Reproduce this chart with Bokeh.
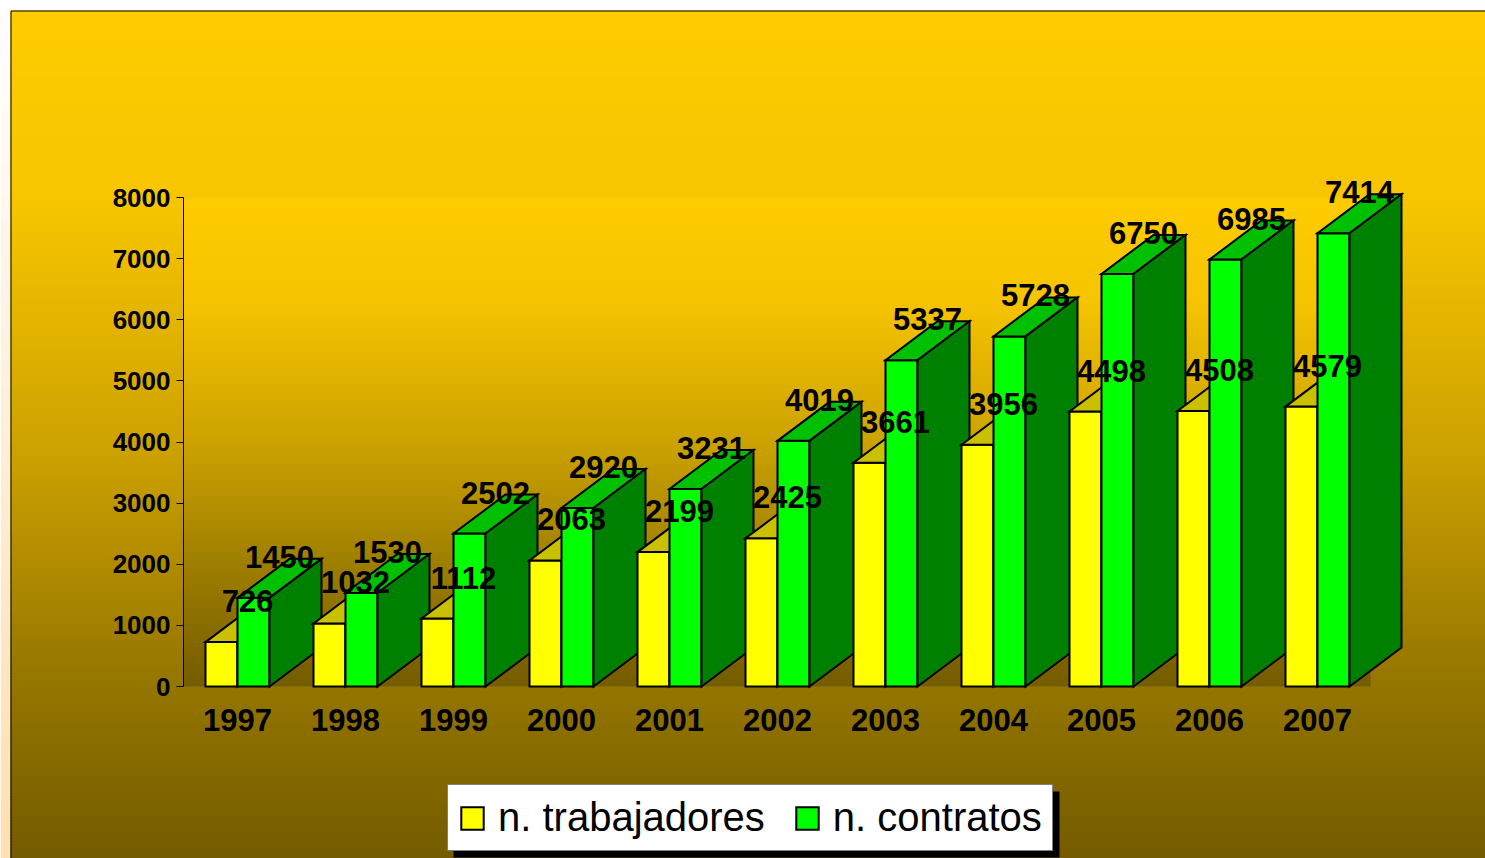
import numpy as np
from bokeh.plotting import figure
from bokeh.models import Range1d, FixedTicker, Legend, LegendItem
from bokeh.core.properties import value
from bokeh.embed import file_html
from bokeh.resources import INLINE

# ---------------- data ----------------
years = ["1997", "1998", "1999", "2000", "2001", "2002", "2003", "2004", "2005", "2006", "2007"]
trabajadores = [726, 1032, 1112, 2063, 2199, 2425, 3661, 3956, 4498, 4508, 4579]
contratos = [1450, 1530, 2502, 2920, 3231, 4019, 5337, 5728, 6750, 6985, 7414]
y_ticks = [0, 1000, 2000, 3000, 4000, 5000, 6000, 7000, 8000]
series_names = ["n. trabajadores", "n. contratos"]

W, H = 1485, 858
# pixel geometry of the chart (scale definition)
X0PX, XSTEP = 237.0, 108.0      # pixel of category 0, pixels per category
Y0PX, YSCALE = 686.0, 489.0 / 8000.0  # pixel of value 0, pixels per unit


def X(px):
    return (px - X0PX) / XSTEP


def Y(py):
    return (Y0PX - py) / YSCALE


p = figure(width=W, height=H, output_backend="svg", toolbar_location=None,
           x_range=Range1d(X(0), X(W)), y_range=Range1d(Y(H), Y(0)),
           min_border=0, min_border_left=0, min_border_right=0,
           min_border_top=0, min_border_bottom=0)
p.title.visible = False
p.outline_line_color = None
p.grid.visible = False
p.background_fill_color = "white"
p.border_fill_color = "white"


def gradient(stops_px, stops_col, y_top, y_bot, step=3):
    ys = np.arange(y_top, y_bot, step, dtype=float)
    cols = []
    for yy in ys:
        yc = yy + step / 2
        r = np.interp(yc, stops_px, [c[0] for c in stops_col])
        g = np.interp(yc, stops_px, [c[1] for c in stops_col])
        b = np.interp(yc, stops_px, [c[2] for c in stops_col])
        cols.append("#%02x%02x%02x" % (int(r), int(g), int(b)))
    tops = [Y(v) for v in ys]
    bots = [Y(min(v + step + 0.6, y_bot)) for v in ys]
    return tops, bots, cols


# left strip (white -> peach)
t, b, c = gradient([0, 858], [(255, 255, 255), (255, 224, 176)], 10, H, 6)
p.quad(left=X(0), right=X(10), top=t, bottom=b, fill_color=c, line_color=None)

# outer gold background
t, b, c = gradient([10, 200, 442, 658, 858],
                   [(255, 204, 0), (247, 198, 0), (207, 163, 0), (154, 122, 0), (116, 92, 0)],
                   10, H, 3)
p.quad(left=X(10), right=X(W), top=t, bottom=b, fill_color=c, line_color=None)
p.segment(x0=[X(10.5), X(10.5)], y0=[Y(10.5), Y(10.5)], x1=[X(10.5), X(W)], y1=[Y(H), Y(10.5)],
          line_color="black", line_width=1)

# back wall
t, b, c = gradient([197, 300, 440, 560, 686],
                   [(255, 204, 0), (246, 196, 0), (205, 163, 0), (160, 128, 0), (116, 92, 0)],
                   197, 686, 3)
p.quad(left=X(183), right=X(1370), top=t, bottom=b, fill_color=c, line_color=None)

# ---------------- 3D bars ----------------
BW = 32.0 / XSTEP
DX = 52.0 / XSTEP
DY = 39.0 / YSCALE
face_cols = {
    0: ("#FFFF00", "#C8C000", "#999900"),
    1: ("#00FF00", "#00C000", "#008000"),
}
xs, ys, fills = [], [], []
for i in range(len(years)):
    for s, vals in enumerate([trabajadores, contratos]):
        v = vals[i]
        x0 = i - BW if s == 0 else i
        x1 = x0 + BW
        front, top, side = face_cols[s]
        xs.append([x0, x1, x1, x0]); ys.append([0, 0, v, v]); fills.append(front)
        xs.append([x0, x1, x1 + DX, x0 + DX]); ys.append([v, v, v + DY, v + DY]); fills.append(top)
        xs.append([x1, x1 + DX, x1 + DX, x1]); ys.append([0, DY, v + DY, v]); fills.append(side)

bars = p.patches(xs=xs, ys=ys, fill_color=fills, line_color="black", line_width=2,
                 line_join="miter")

# value labels
LBL_DY = 41.0 / YSCALE
lx, ly, lt = [], [], []
for i in range(len(years)):
    lx.append(i - BW / 2 + DX / 2); ly.append(trabajadores[i] + LBL_DY); lt.append(str(trabajadores[i]))
for i in range(len(years)):
    lx.append(i + BW / 2 + DX / 2); ly.append(contratos[i] + LBL_DY); lt.append(str(contratos[i]))
p.text(x=lx, y=ly, text=lt, text_font=value("Liberation Sans"), text_font_style="bold",
       text_font_size="31px", text_align="center", text_baseline="middle", text_color="black")

# ---------------- axes ----------------
yax = p.yaxis[0]
yax.fixed_location = X(183)
yax.bounds = (0, 8000)
yax.ticker = FixedTicker(ticks=y_ticks)
yax.minor_tick_line_color = None
yax.major_tick_in = 0
yax.major_tick_out = 7
yax.axis_line_color = "black"
yax.axis_line_width = 1
yax.major_tick_line_width = 1
yax.major_label_standoff = 6
yax.major_label_text_font = "Liberation Sans"
yax.major_label_text_font_style = "bold"
yax.major_label_text_font_size = "26px"
yax.major_label_text_color = "black"

xax = p.xaxis[0]
xax.fixed_location = 0
xax.ticker = FixedTicker(ticks=list(range(len(years))))
xax.major_label_overrides = {i: y for i, y in enumerate(years)}
xax.axis_line_color = None
xax.major_tick_line_color = None
xax.minor_tick_line_color = None
xax.major_tick_out = 0
xax.major_tick_in = 0
xax.major_label_standoff = 22
xax.major_label_text_font = "Liberation Sans"
xax.major_label_text_font_style = "bold"
xax.major_label_text_font_size = "31px"
xax.major_label_text_color = "black"

# ---------------- legend ----------------
# shadow
p.quad(left=X(453), right=X(1059), top=Y(791), bottom=Y(857), fill_color="black", line_color=None)
legend = Legend(items=[LegendItem(label=series_names[0], renderers=[bars], index=0),
                       LegendItem(label=series_names[1], renderers=[bars], index=3)],
                orientation="horizontal", location=(447, 7),
                border_line_color="black", border_line_width=1,
                background_fill_color="white", background_fill_alpha=1.0,
                glyph_width=28, glyph_height=28, label_standoff=12, spacing=28,
                padding=10, margin=0,
                label_text_font="Liberation Sans", label_text_font_size="40px",
                label_text_color="black", label_text_baseline="middle")
p.add_layout(legend)

open("out.html", "w").write(file_html(p, INLINE))
